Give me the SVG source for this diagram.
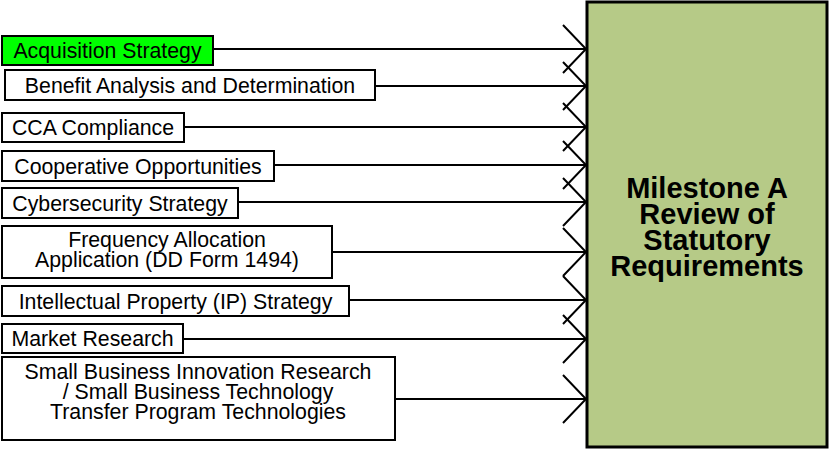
<svg xmlns="http://www.w3.org/2000/svg" width="829" height="450" viewBox="0 0 829 450">
<style>
.box{fill:#fff;stroke:#000;stroke-width:2}
.t{font-family:"Liberation Sans",Arial,sans-serif;font-size:21.3px;fill:#000;text-anchor:middle}
.big{fill:#B6CA87;stroke:#000;stroke-width:3}
.bt{font-family:"Liberation Sans",Arial,sans-serif;font-size:29px;font-weight:bold;fill:#000;text-anchor:middle}
.c{stroke:#000;stroke-width:2;fill:none;marker-end:url(#chev)}
</style>
<defs>
<marker id="chev" markerUnits="userSpaceOnUse" markerWidth="30" markerHeight="52" viewBox="-26 -26 30 52" refX="0" refY="0" orient="auto" overflow="visible">
<path d="M-23,-24 L0,0 L-23,24" fill="none" stroke="#000" stroke-width="2"/>
</marker>
</defs>
<g id="connectors">
<line class="c" x1="213" y1="49" x2="586" y2="49"/>
<line class="c" x1="375" y1="86" x2="586" y2="86"/>
<line class="c" x1="184" y1="127" x2="586" y2="127"/>
<line class="c" x1="274" y1="165" x2="586" y2="165"/>
<line class="c" x1="238" y1="202" x2="586" y2="202"/>
<line class="c" x1="332" y1="252" x2="586" y2="252"/>
<line class="c" x1="349" y1="300" x2="586" y2="300"/>
<line class="c" x1="183" y1="339" x2="586" y2="339"/>
<line class="c" x1="395" y1="399" x2="586" y2="399"/>
</g>
<g id="milestone">
<rect class="big" x="587" y="2" width="240" height="445"/>
<text class="bt" x="707" y="198">Milestone A<tspan x="707" dy="26">Review of</tspan><tspan x="707" dy="26">Statutory</tspan><tspan x="707" dy="25.5">Requirements</tspan></text>
</g>
<g id="acquisition">
<rect class="box" x="2" y="36" width="211" height="29" style="fill:#00FF00"/>
<text class="t" x="107.5" y="58">Acquisition Strategy</text>
</g>
<g id="benefit">
<rect class="box" x="5" y="70" width="370" height="30"/>
<text class="t" x="190" y="92.5">Benefit Analysis and Determination</text>
</g>
<g id="cca">
<rect class="box" x="2" y="113" width="182" height="29"/>
<text class="t" x="93" y="135">CCA Compliance</text>
</g>
<g id="cooperative">
<rect class="box" x="2" y="151" width="272" height="30"/>
<text class="t" x="138" y="173.5">Cooperative Opportunities</text>
</g>
<g id="cybersecurity">
<rect class="box" x="2" y="188" width="236" height="30"/>
<text class="t" x="120" y="210.5">Cybersecurity Strategy</text>
</g>
<g id="frequency">
<rect class="box" x="2" y="226" width="330" height="52"/>
<text class="t" x="167" y="247">Frequency Allocation<tspan x="167" dy="20">Application (DD Form 1494)</tspan></text>
</g>
<g id="ip">
<rect class="box" x="2" y="286" width="347" height="30"/>
<text class="t" x="175.5" y="308.5">Intellectual Property (IP) Strategy</text>
</g>
<g id="market">
<rect class="box" x="2" y="324" width="181" height="29"/>
<text class="t" x="92.5" y="346">Market Research</text>
</g>
<g id="sbir">
<rect class="box" x="2" y="357" width="393" height="83"/>
<text class="t" x="198" y="379">Small Business Innovation Research<tspan x="198" dy="20">/ Small Business Technology</tspan><tspan x="198" dy="19.5">Transfer Program Technologies</tspan></text>
</g>
</svg>
